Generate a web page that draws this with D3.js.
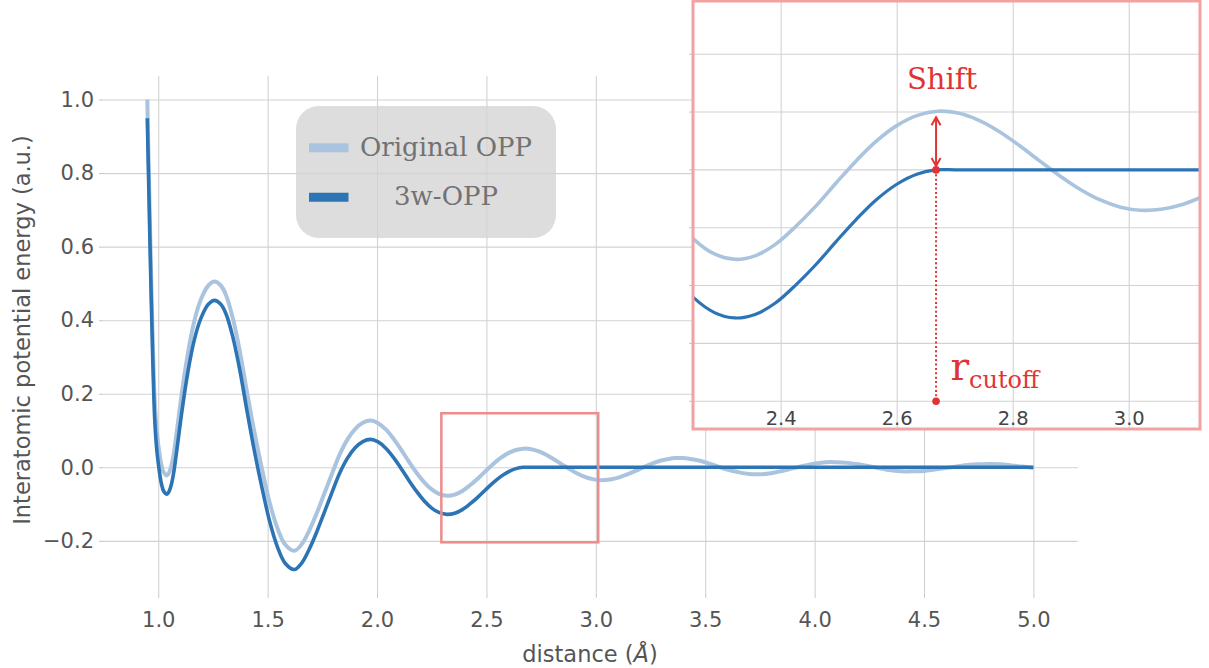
<!DOCTYPE html>
<html>
<head>
<meta charset="utf-8">
<script src="https://cdn.jsdelivr.net/npm/d3@7"></script>
<style>
    body { margin: 0; background: #fff; }
    #chart { width: 1209px; height: 668px; }
    text { font-family: "DejaVu Sans", sans-serif; }
</style>
</head>
<body>
<div id="chart"></div>
<script>

// Original OPP, values
const oppDistance = [0.950, 0.956, 0.963, 0.974, 0.983, 0.989, 0.995, 1.005, 1.015, 1.025, 1.040, 1.050, 1.060, 1.070, 1.081,
    1.093, 1.105, 1.120, 1.135, 1.150, 1.165, 1.185, 1.205, 1.230, 1.257, 1.285, 1.310, 1.341, 1.372, 1.407, 1.440, 1.474,
    1.510, 1.545, 1.580, 1.622, 1.655, 1.690, 1.725, 1.760, 1.795, 1.830, 1.865, 1.900, 1.935, 1.970, 2.005, 2.040, 2.075,
    2.110, 2.145, 2.180, 2.215, 2.250, 2.285, 2.320, 2.355, 2.390, 2.425, 2.460, 2.495, 2.530, 2.565, 2.600, 2.635, 2.670,
    2.705, 2.740, 2.775, 2.810, 2.845, 2.880, 2.915, 2.950, 2.985, 3.020, 3.055, 3.090, 3.125, 3.160, 3.200, 3.240, 3.280,
    3.320, 3.360, 3.400, 3.440, 3.480, 3.520, 3.560, 3.600, 3.650, 3.700, 3.750, 3.800, 3.850, 3.900, 3.950, 4.000, 4.050,
    4.100, 4.150, 4.200, 4.250, 4.300, 4.350, 4.400, 4.450, 4.500, 4.550, 4.600, 4.650, 4.700, 4.750, 4.800, 4.850, 4.900,
    4.950, 5.000];
const oppEnergy = [1.000, 0.832, 0.638, 0.366, 0.192, 0.130, 0.088, 0.040, 0.005, -0.014, -0.022, -0.014, 0.004, 0.034, 0.080,
    0.135, 0.190, 0.252, 0.308, 0.357, 0.398, 0.440, 0.470, 0.495, 0.505, 0.495, 0.468, 0.405, 0.318, 0.200, 0.094, -0.004,
    -0.098, -0.166, -0.210, -0.227, -0.210, -0.172, -0.124, -0.070, -0.016, 0.036, 0.076, 0.104, 0.121, 0.127, 0.120, 0.103, 0.078,
    0.048, 0.016, -0.014, -0.0402, -0.0602, -0.0727, -0.0773, -0.0743, -0.0644, -0.0489, -0.0311, -0.0111, 0.0082, 0.0253, 0.0385,
    0.0471, 0.0507, 0.0491, 0.0430, 0.0334, 0.0213, 0.0080, -0.0050, -0.0167, -0.0260, -0.0322, -0.0349, -0.0341, -0.0302, -0.0234,
    -0.0153, -0.005, 0.006, 0.015, 0.021, 0.025, 0.025, 0.022, 0.017, 0.010, 0.002, -0.006, -0.013, -0.018, -0.019, -0.016, -0.010,
    -0.003, 0.004, 0.010, 0.014, 0.014, 0.012, 0.008, 0.003, -0.003, -0.008, -0.011, -0.011, -0.010, -0.006, -0.002, 0.002, 0.006,
    0.008, 0.009, 0.008, 0.005, 0.002, -0.002];

// 3w-OPP (shifted down, flat after the cutoff)
const wDistance = [0.950, 0.956, 0.963, 0.974, 0.983, 0.989, 0.995, 1.005, 1.015, 1.025, 1.040, 1.050, 1.060, 1.070, 1.081,
    1.093, 1.105, 1.120, 1.135, 1.150, 1.165, 1.185, 1.205, 1.230, 1.257, 1.285, 1.310, 1.341, 1.372, 1.407, 1.440, 1.474,
    1.510, 1.545, 1.580, 1.622, 1.655, 1.690, 1.725, 1.760, 1.795, 1.830, 1.865, 1.900, 1.935, 1.970, 2.005, 2.040, 2.075,
    2.110, 2.145, 2.180, 2.215, 2.250, 2.285, 2.320, 2.355, 2.390, 2.425, 2.460, 2.495, 2.530, 2.565, 2.600, 2.635, 2.667,
    2.700, 2.750, 3.000, 4.000, 5.000];
const wEnergy = [0.949, 0.781, 0.587, 0.315, 0.141, 0.079, 0.037, -0.011, -0.046, -0.065, -0.073, -0.065, -0.047, -0.017, 0.029,
    0.084, 0.139, 0.201, 0.257, 0.306, 0.347, 0.389, 0.419, 0.444, 0.454, 0.444, 0.417, 0.354, 0.267, 0.149, 0.043, -0.055,
    -0.149, -0.217, -0.261, -0.278, -0.261, -0.223, -0.175, -0.121, -0.067, -0.015, 0.025, 0.053, 0.070, 0.076, 0.069, 0.052, 0.027,
    -0.003, -0.035, -0.065, -0.0909, -0.1109, -0.1234, -0.1280, -0.1250, -0.1151, -0.0996, -0.0818, -0.0618, -0.0425, -0.0254,
    -0.0122, -0.0036, 0.000, 0.000, 0.000, 0.000, 0.000, 0.000];

const xTicks = [1.0, 1.5, 2.0, 2.5, 3.0, 3.5, 4.0, 4.5, 5.0];
const yTicks = [-0.2, 0.0, 0.2, 0.4, 0.6, 0.8, 1.0];
const insetXTicks = [2.4, 2.6, 2.8, 3.0];
const insetYTicks = [-0.2, -0.15, -0.1, -0.05, 0.0, 0.05, 0.1];
const legendLabels = ["Original OPP", "3w-OPP"];

const rCutoff = 2.667;
const shiftValue = 0.0507;
const zoomX = [2.294, 3.011];
const zoomY = [-0.204, 0.147];


class PotentialChart {

    constructor(parentElement) {
        this.parentElement = parentElement;
    }

    initVis() {
        let vis = this;

        vis.svg = d3.select("#" + vis.parentElement).append("svg")
            .attr("width", 1209)
            .attr("height", 668);

        vis.svg.append("rect").attr("width", 1209).attr("height", 668).attr("fill", "#fff");

        vis.lightBlue = "#aac3de";
        vis.darkBlue = "#2c74b4";
        vis.red = "#e03434";

        // main scales
        vis.x = d3.scaleLinear().domain([0.7475, 5.2025]).range([103, 1077.7]);
        vis.y = d3.scaleLinear().domain([-0.344, 1.064]).range([593.8, 76]);

        // inset scales
        vis.xIn = d3.scaleLinear().domain([2.248, 3.122]).range([693, 1200]);
        vis.yIn = d3.scaleLinear().domain([-0.224, 0.146]).range([429, 1]);

        vis.drawMain();
        vis.drawLegend();
        vis.drawInset();
    }

    drawMain() {
        let vis = this;

        // grid
        vis.svg.append("g")
            .attr("class", "grid")
            .attr("transform", "translate(0,593.8)")
            .call(d3.axisBottom(vis.x).tickValues(xTicks).tickSize(-(593.8 - 76)).tickFormat(""))
            .call(g => g.select(".domain").remove());

        vis.svg.append("g")
            .attr("class", "grid")
            .attr("transform", "translate(103,0)")
            .call(d3.axisLeft(vis.y).tickValues(yTicks).tickSize(-(1077.7 - 103)).tickFormat(""))
            .call(g => g.select(".domain").remove());

        vis.svg.selectAll(".grid line").attr("stroke", "#d2d2d2").attr("stroke-width", 1.1);

        // axes with labels
        vis.svg.append("g")
            .attr("class", "axis")
            .attr("transform", "translate(0,593.8)")
            .call(d3.axisBottom(vis.x).tickValues(xTicks).tickSize(4).tickPadding(14.3).tickFormat(d3.format(".1f")));

        vis.svg.append("g")
            .attr("class", "axis")
            .attr("transform", "translate(103,0)")
            .call(d3.axisLeft(vis.y).tickValues(yTicks).tickSize(4).tickPadding(5)
                .tickFormat(d => d3.format(".1f")(d).replace("-", "\u2212")));

        vis.svg.selectAll(".axis .domain").remove();
        vis.svg.selectAll(".axis line").attr("stroke", "#c4c4c4");
        vis.svg.selectAll(".axis text")
            .attr("fill", "#555")
            .style("font-size", "21px")
            .style("font-family", "DejaVu Sans");

        vis.svg.append("text")
            .attr("x", 590)
            .attr("y", 662)
            .attr("text-anchor", "middle")
            .attr("fill", "#555")
            .style("font-size", "22.5px")
            .html('distance (<tspan font-style="italic">Å</tspan>)');

        vis.svg.append("text")
            .attr("transform", "translate(29.5,330) rotate(-90)")
            .attr("text-anchor", "middle")
            .attr("fill", "#555")
            .style("font-size", "22.5px")
            .text("Interatomic potential energy (a.u.)");

        vis.line = d3.line()
            .curve(d3.curveCatmullRom.alpha(0.5))
            .x(d => vis.x(d[0]))
            .y(d => vis.y(d[1]));

        vis.svg.append("path")
            .datum(d3.zip(oppDistance, oppEnergy))
            .attr("fill", "none")
            .attr("stroke", vis.lightBlue)
            .attr("stroke-width", 4)
            .attr("d", vis.line);

        vis.svg.append("path")
            .datum(d3.zip(wDistance, wEnergy))
            .attr("fill", "none")
            .attr("stroke", vis.darkBlue)
            .attr("stroke-width", 3.6)
            .attr("d", vis.line);

        // zoom box
        vis.svg.append("rect")
            .attr("x", vis.x(zoomX[0]))
            .attr("y", vis.y(zoomY[1]))
            .attr("width", vis.x(zoomX[1]) - vis.x(zoomX[0]))
            .attr("height", vis.y(zoomY[0]) - vis.y(zoomY[1]))
            .attr("fill", "none")
            .attr("stroke", "#ee8c8c")
            .attr("stroke-width", 2.5);
    }

    drawLegend() {
        let vis = this;

        let lg = vis.svg.append("g").attr("class", "legend");

        lg.append("rect")
            .attr("x", 296).attr("y", 106)
            .attr("width", 260).attr("height", 132)
            .attr("rx", 23).attr("ry", 23)
            .attr("fill", "#d4d4d4")
            .attr("fill-opacity", 0.78);

        let colors = [vis.lightBlue, vis.darkBlue];

        legendLabels.forEach((label, i) => {
            lg.append("line")
                .attr("x1", 309).attr("x2", 348.5)
                .attr("y1", 147.7 + i * 49.5).attr("y2", 147.7 + i * 49.5)
                .attr("stroke", colors[i])
                .attr("stroke-width", 9);

            lg.append("text")
                .attr("x", 446)
                .attr("y", 155.5 + i * 49.5)
                .attr("text-anchor", "middle")
                .attr("fill", "#727272")
                .style("font-family", "DejaVu Serif")
                .style("font-size", "26px")
                .text(label);
        });
    }

    drawInset() {
        let vis = this;

        let x0 = vis.xIn.range()[0], x1 = vis.xIn.range()[1];
        let y0 = vis.yIn.range()[1], y1 = vis.yIn.range()[0];

        let inset = vis.svg.append("g").attr("class", "inset");

        inset.append("rect")
            .attr("x", x0).attr("y", y0)
            .attr("width", x1 - x0).attr("height", y1 - y0)
            .attr("fill", "#fff");

        inset.append("clipPath").attr("id", "insetClip")
            .append("rect")
            .attr("x", x0).attr("y", y0)
            .attr("width", x1 - x0).attr("height", y1 - y0);

        inset.selectAll(".vgrid")
            .data(insetXTicks)
            .enter().append("line")
            .attr("x1", d => vis.xIn(d)).attr("x2", d => vis.xIn(d))
            .attr("y1", y0).attr("y2", y1)
            .attr("stroke", "#d2d2d2").attr("stroke-width", 1.1);

        inset.selectAll(".hgrid")
            .data(insetYTicks)
            .enter().append("line")
            .attr("x1", x0).attr("x2", x1)
            .attr("y1", d => vis.yIn(d)).attr("y2", d => vis.yIn(d))
            .attr("stroke", "#d2d2d2").attr("stroke-width", 1.1);

        // small outer ticks on the left side
        inset.selectAll(".ytick")
            .data(insetYTicks)
            .enter().append("line")
            .attr("x1", x0 - 4).attr("x2", x0)
            .attr("y1", d => vis.yIn(d)).attr("y2", d => vis.yIn(d))
            .attr("stroke", "#c4c4c4");

        inset.selectAll(".xlabel")
            .data(insetXTicks)
            .enter().append("text")
            .attr("x", d => vis.xIn(d))
            .attr("y", 424.5)
            .attr("text-anchor", "middle")
            .attr("fill", "#454545")
            .style("font-size", "19.5px")
            .text(d => d3.format(".1f")(d));

        let lineIn = d3.line()
            .curve(d3.curveCatmullRom.alpha(0.5))
            .x(d => vis.xIn(d[0]))
            .y(d => vis.yIn(d[1]));

        let curves = inset.append("g").attr("clip-path", "url(#insetClip)");

        curves.append("path")
            .datum(d3.zip(oppDistance, oppEnergy))
            .attr("fill", "none")
            .attr("stroke", vis.lightBlue)
            .attr("stroke-width", 3.6)
            .attr("d", lineIn);

        curves.append("path")
            .datum(d3.zip(wDistance, wEnergy))
            .attr("fill", "none")
            .attr("stroke", vis.darkBlue)
            .attr("stroke-width", 3.2)
            .attr("d", lineIn);

        // cutoff marker
        let xc = vis.xIn(rCutoff);

        inset.append("line")
            .attr("x1", xc).attr("x2", xc)
            .attr("y1", vis.yIn(0)).attr("y2", vis.yIn(-0.2))
            .attr("stroke", vis.red)
            .attr("stroke-width", 2)
            .attr("stroke-dasharray", "2,2.4");

        inset.selectAll(".dot")
            .data([0, -0.2])
            .enter().append("circle")
            .attr("cx", xc)
            .attr("cy", d => vis.yIn(d))
            .attr("r", 3.8)
            .attr("fill", vis.red);

        // shift arrow
        let top = vis.yIn(shiftValue) + 6, bot = vis.yIn(0) - 4;
        inset.append("line")
            .attr("x1", xc).attr("x2", xc)
            .attr("y1", top).attr("y2", bot)
            .attr("stroke", vis.red)
            .attr("stroke-width", 2);

        inset.append("path")
            .attr("d", `M${xc - 4.5},${top + 8} L${xc},${top} L${xc + 4.5},${top + 8}`
                + ` M${xc - 4.5},${bot - 8} L${xc},${bot} L${xc + 4.5},${bot - 8}`)
            .attr("fill", "none")
            .attr("stroke", vis.red)
            .attr("stroke-width", 2);

        inset.append("text")
            .attr("x", xc + 6)
            .attr("y", 88.5)
            .attr("text-anchor", "middle")
            .attr("fill", vis.red)
            .style("font-family", "DejaVu Serif")
            .style("font-size", "29px")
            .text("Shift");

        inset.append("text")
            .attr("x", xc + 14.5)
            .attr("y", 380)
            .attr("fill", vis.red)
            .style("font-family", "DejaVu Serif")
            .style("font-size", "39px")
            .text("r");

        inset.append("text")
            .attr("x", xc + 33)
            .attr("y", 388)
            .attr("fill", vis.red)
            .style("font-family", "DejaVu Serif")
            .style("font-size", "24px")
            .text("cutoff");

        // border
        inset.append("rect")
            .attr("x", x0).attr("y", y0)
            .attr("width", x1 - x0).attr("height", y1 - y0)
            .attr("fill", "none")
            .attr("stroke", "#f2a2a2")
            .attr("stroke-width", 3);
    }
}

let chart = new PotentialChart("chart");
chart.initVis();

</script>
</body>
</html>
